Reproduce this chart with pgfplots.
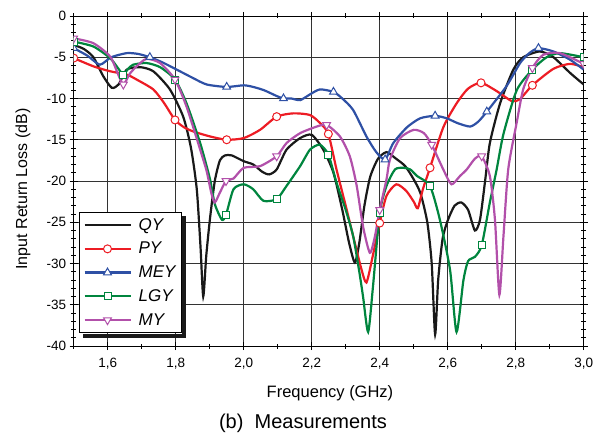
\documentclass[border=0pt]{standalone}
\usepackage{pgfplots}
\pgfplotsset{compat=1.18}
\usepackage{fontspec}
\setmainfont{Liberation Sans}
\definecolor{cQY}{RGB}{25,25,25}
\definecolor{cPY}{RGB}{237,28,36}
\definecolor{cMEY}{RGB}{46,80,165}
\definecolor{cLGY}{RGB}{0,133,62}
\definecolor{cMY}{RGB}{178,80,170}
\begin{document}
\begin{tikzpicture}
\begin{axis}[
  width=510pt, height=330pt, scale only axis,
  xmin=1.5, xmax=3.0, ymin=-40, ymax=0,
  xtick={1.6,1.8,2.0,2.2,2.4,2.6,2.8,3.0},
  minor xtick={1.5,1.7,1.9,2.1,2.3,2.5,2.7,2.9},
  ytick={-40,-35,-30,-25,-20,-15,-10,-5,0},
  minor ytick={-39,-38,...,-1},
  grid=major,
  major grid style={line width=0.8pt, black!80},
  axis line style={line width=0.8pt},
  tick style={line width=0.8pt, black},
  tick align=center,
  major tick length=8pt, minor tick length=5pt,
  /pgf/number format/assume math mode=true,
  tick label style={font=\fontsize{13.5}{14}\selectfont},
  xticklabel style={yshift=-5pt, /pgf/number format/.cd, fixed, fixed zerofill, precision=1, use comma},
  clip marker paths=true,
  legend cell align=left,
  legend image code/.code={\draw[mark repeat=2,mark phase=2,#1] plot coordinates {(0pt,0pt)(23pt,0pt)(46pt,0pt)};},
  legend style={name=leg, at={(0.0104,0.039)}, anchor=south west, draw=black, line width=0.8pt, fill=white,
    font=\fontsize{17}{18}\selectfont\itshape, row sep=6.5pt, inner xsep=4pt, inner ysep=4pt,
    /tikz/every odd column/.append style={column sep=5pt}},
]
% QY
\addplot[cQY, line width=2.2pt, smooth, tension=0.4, forget plot] coordinates {
(1.500,-3.5)(1.530,-4.0)(1.558,-5.0)(1.587,-7.3)(1.612,-8.7)(1.632,-8.3)(1.656,-6.5)(1.695,-6.2)(1.734,-6.7)(1.783,-8.9)(1.822,-12.2)(1.845,-16.0)(1.862,-21.0)(1.873,-28.0)(1.881,-34.0)(1.890,-29.0)(1.901,-24.5)(1.915,-20.0)(1.930,-17.5)(1.945,-16.9)(1.965,-16.9)(2.000,-17.6)(2.028,-18.0)(2.055,-18.9)(2.075,-19.2)(2.097,-18.6)(2.126,-16.2)(2.166,-14.8)(2.200,-14.4)(2.234,-16.2)(2.264,-19.0)(2.290,-23.5)(2.310,-27.5)(2.327,-29.9)(2.340,-27.5)(2.355,-23.0)(2.372,-19.5)(2.395,-17.3)(2.420,-16.5)(2.445,-17.2)(2.475,-18.2)(2.500,-19.8)(2.520,-21.5)(2.540,-25.0)(2.553,-30.0)(2.563,-38.6)(2.572,-32.0)(2.585,-27.0)(2.600,-24.8)(2.620,-23.0)(2.640,-22.6)(2.660,-23.5)(2.680,-26.0)(2.695,-24.7)(2.710,-20.0)(2.724,-15.4)(2.754,-10.6)(2.793,-6.5)(2.822,-5.0)(2.871,-4.3)(2.911,-5.0)(2.960,-6.9)(3.000,-8.3)};
% PY
\addplot[cPY, line width=2.2pt, smooth, tension=0.4, forget plot] coordinates {
(1.500,-5.1)(1.558,-6.1)(1.607,-6.7)(1.656,-7.1)(1.685,-7.7)(1.734,-8.9)(1.765,-10.5)(1.798,-12.6)(1.825,-13.5)(1.852,-14.0)(1.901,-14.6)(1.950,-15.0)(2.000,-14.8)(2.048,-13.8)(2.097,-12.2)(2.146,-11.8)(2.195,-12.0)(2.225,-13.0)(2.249,-14.3)(2.273,-18.6)(2.300,-23.0)(2.322,-26.7)(2.345,-30.5)(2.361,-32.3)(2.380,-29.0)(2.400,-25.1)(2.420,-21.8)(2.449,-20.4)(2.478,-21.2)(2.500,-22.5)(2.512,-23.3)(2.527,-21.0)(2.548,-18.4)(2.587,-13.5)(2.626,-10.6)(2.660,-8.8)(2.698,-8.1)(2.744,-9.1)(2.788,-10.3)(2.812,-10.1)(2.849,-8.4)(2.911,-6.4)(2.960,-5.8)(3.000,-6.2)};
% MEY
\addplot[cMEY, line width=2.2pt, smooth, tension=0.4, forget plot] coordinates {
(1.500,-3.9)(1.540,-4.8)(1.577,-5.9)(1.610,-5.0)(1.656,-4.5)(1.690,-4.6)(1.724,-5.0)(1.760,-5.6)(1.803,-6.5)(1.850,-7.5)(1.891,-8.3)(1.950,-8.6)(2.000,-8.4)(2.028,-8.6)(2.060,-9.0)(2.097,-9.7)(2.117,-10.0)(2.140,-10.0)(2.166,-10.2)(2.195,-9.5)(2.224,-8.9)(2.264,-9.2)(2.290,-10.0)(2.322,-11.4)(2.361,-14.6)(2.390,-16.5)(2.416,-17.4)(2.440,-15.4)(2.480,-13.5)(2.519,-12.4)(2.563,-12.1)(2.597,-12.4)(2.630,-13.0)(2.666,-13.4)(2.690,-12.8)(2.715,-11.6)(2.773,-8.5)(2.813,-5.7)(2.840,-4.5)(2.867,-3.9)(2.911,-4.3)(2.960,-5.3)(3.000,-6.5)};
% LGY
\addplot[cLGY, line width=2.2pt, smooth, tension=0.4, forget plot] coordinates {
(1.500,-3.1)(1.558,-3.7)(1.607,-5.1)(1.630,-6.3)(1.646,-7.1)(1.660,-6.4)(1.675,-5.9)(1.714,-5.7)(1.754,-6.2)(1.798,-7.7)(1.832,-10.6)(1.872,-15.4)(1.901,-19.8)(1.915,-22.8)(1.936,-24.7)(1.948,-24.1)(1.970,-21.0)(2.000,-20.4)(2.028,-21.0)(2.058,-22.4)(2.097,-22.2)(2.126,-20.6)(2.166,-18.2)(2.195,-16.2)(2.224,-15.6)(2.249,-16.8)(2.273,-20.2)(2.300,-23.5)(2.322,-26.7)(2.340,-31.0)(2.351,-34.0)(2.366,-38.3)(2.380,-32.9)(2.400,-23.9)(2.420,-20.6)(2.445,-18.6)(2.470,-18.4)(2.490,-18.6)(2.510,-19.4)(2.548,-20.6)(2.577,-24.7)(2.607,-30.8)(2.626,-38.3)(2.646,-32.1)(2.660,-29.7)(2.680,-29.2)(2.700,-27.8)(2.724,-22.6)(2.744,-18.6)(2.764,-14.3)(2.803,-9.0)(2.849,-6.5)(2.891,-5.0)(2.930,-4.5)(3.000,-5.0)};
% MY
\addplot[cMY, line width=2.2pt, smooth, tension=0.4, forget plot] coordinates {
(1.500,-2.7)(1.558,-3.3)(1.607,-4.9)(1.630,-7.0)(1.646,-8.3)(1.665,-7.0)(1.685,-6.1)(1.714,-5.2)(1.754,-5.7)(1.798,-7.7)(1.832,-11.0)(1.872,-16.2)(1.891,-18.8)(1.905,-21.5)(1.915,-22.6)(1.930,-21.4)(1.948,-20.0)(1.970,-19.7)(2.000,-18.4)(2.048,-18.2)(2.097,-17.0)(2.126,-15.4)(2.166,-14.2)(2.215,-13.4)(2.244,-13.2)(2.283,-14.6)(2.312,-17.0)(2.332,-20.5)(2.351,-25.5)(2.371,-28.7)(2.386,-26.7)(2.400,-23.5)(2.420,-19.8)(2.430,-17.4)(2.460,-14.8)(2.500,-13.8)(2.530,-14.2)(2.553,-15.6)(2.587,-18.6)(2.611,-20.4)(2.636,-19.4)(2.656,-18.6)(2.680,-17.3)(2.700,-17.0)(2.724,-19.4)(2.739,-24.7)(2.752,-33.8)(2.764,-26.7)(2.778,-18.6)(2.803,-12.9)(2.822,-8.9)(2.849,-6.3)(2.881,-4.7)(2.930,-4.5)(3.000,-5.8)};
% markers
\addplot[cPY, only marks, mark=*, mark size=4pt, mark options={fill=white, line width=1pt}, forget plot] coordinates {
(1.500,-5.1)(1.798,-12.6)(1.950,-15.0)(2.097,-12.2)(2.249,-14.3)(2.400,-25.1)(2.548,-18.4)(2.698,-8.1)(2.849,-8.4)};
\addplot[cMEY, only marks, mark=triangle*, mark size=4.5pt, mark options={fill=white, line width=1pt}, forget plot] coordinates {
(1.500,-3.9)(1.724,-5.0)(1.950,-8.6)(2.117,-10.0)(2.264,-9.2)(2.416,-17.4)(2.563,-12.1)(2.715,-11.6)(2.867,-3.9)};
\addplot[cLGY, only marks, mark=square*, mark size=3.5pt, mark options={fill=white, line width=1pt}, forget plot] coordinates {
(1.500,-3.1)(1.646,-7.1)(1.798,-7.7)(1.948,-24.1)(2.097,-22.2)(2.249,-16.8)(2.400,-23.9)(2.548,-20.6)(2.700,-27.8)(2.849,-6.5)(3.000,-5.0)};
\addplot[cMY, only marks, mark=triangle*, mark size=4.5pt, mark options={fill=white, line width=1pt, rotate=180}, forget plot] coordinates {
(1.500,-2.7)(1.646,-8.3)(1.798,-7.7)(1.948,-20.0)(2.097,-17.0)(2.244,-13.2)(2.400,-23.5)(2.553,-15.6)(2.700,-17.0)(2.849,-6.3)(3.000,-5.8)};
\addlegendimage{cQY, line width=2.2pt}
\addlegendentry{QY}
\addlegendimage{cPY, line width=2.2pt, mark=*, mark size=4pt, mark options={fill=white, line width=1pt}}
\addlegendentry{PY}
\addlegendimage{cMEY, line width=2.2pt, mark=triangle*, mark size=4.5pt, mark options={fill=white, line width=1pt}}
\addlegendentry{MEY}
\addlegendimage{cLGY, line width=2.2pt, mark=square*, mark size=3.5pt, mark options={fill=white, line width=1pt}}
\addlegendentry{LGY}
\addlegendimage{cMY, line width=2.2pt, mark=triangle*, mark size=4.5pt, mark options={fill=white, line width=1pt, rotate=180}}
\addlegendentry{MY}
\end{axis}
\fill[black!90] ([shift={(0.4pt,-4pt)}]leg.north east) rectangle ([shift={(4.4pt,-0.4pt)}]leg.south east);
\fill[black!90] ([shift={(4pt,-0.4pt)}]leg.south west) rectangle ([shift={(4.4pt,-4.4pt)}]leg.south east);
\node[rotate=90, font=\fontsize{16}{16}\selectfont] at ([shift={(-50.7pt,157pt)}]current axis.south west) {Input Return Loss (dB)};
\node[font=\fontsize{16.5}{17}\selectfont] at ([shift={(256.3pt,-47pt)}]current axis.south west) {Frequency (GHz)};
\node[font=\fontsize{20}{20}\selectfont] at ([shift={(229.3pt,-77pt)}]current axis.south west) {(b)\ \ Measurements};
\pgfresetboundingbox
\path ([shift={(-73.7pt,-88pt)}]current axis.south west) rectangle ([shift={(529.3pt,346pt)}]current axis.south west);
\end{tikzpicture}
\end{document}
